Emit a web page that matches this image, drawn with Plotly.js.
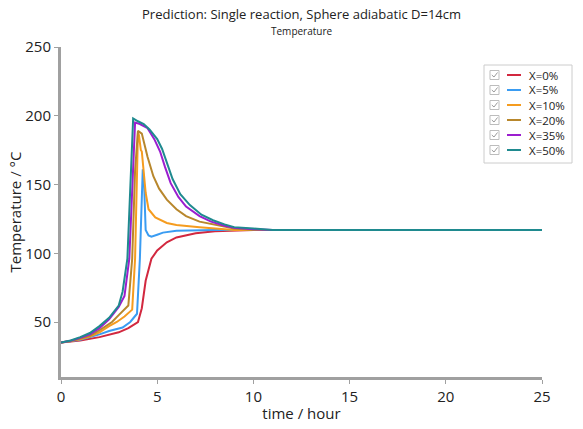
<!DOCTYPE html>
<html>
<head>
<meta charset="utf-8">
<script src="https://cdn.plot.ly/plotly-3.0.1.min.js"></script>
<style>html,body{margin:0;padding:0;background:#fff;}#chart{width:583px;height:429px;}</style>
</head>
<body>
<div id="chart"></div>
<script>
const seriesNames = ["X=0%", "X=5%", "X=10%", "X=20%", "X=35%", "X=50%"];
const seriesColors = ["#d2283f", "#3a9cf2", "#f59c1f", "#b8872c", "#9b1ecf", "#1f8a8f"];

const t0 = [0, 1, 2, 3, 3.5, 4.0, 4.2, 4.4, 4.7, 5, 5.5, 6, 7, 8, 10, 25];
const v0 = [35, 36.5, 39, 42.5, 45.5, 50, 60, 80, 96, 102, 108, 111.5, 114.5, 116, 117, 117];

const t5 = [0, 1, 2, 2.5, 3.2, 3.6, 3.95, 4.05, 4.1, 4.2, 4.25, 4.32, 4.4, 4.55, 4.7, 5.0, 5.3, 6, 7, 8, 25];
const v5 = [35, 37, 41, 43.5, 46, 50, 56, 80, 96, 140, 161, 150, 117, 113, 112, 113.5, 115, 116.3, 116.8, 117, 117];

const t10 = [0, 0.5, 1, 1.5, 2, 2.5, 2.9, 3.3, 3.7, 3.85, 3.95, 4.0, 4.05, 4.15, 4.2, 4.4, 4.55, 4.9, 5.5, 6, 7.2, 8, 9, 25];
const v10 = [35, 36, 37.5, 39.5, 42.5, 47, 50, 54, 59, 96, 170, 188, 186, 175, 174, 144, 132, 126, 122, 120.5, 119, 118, 117, 117];

const t20 = [0, 0.5, 1, 1.5, 2, 2.65, 3, 3.5, 3.7, 3.85, 4.0, 4.2, 4.5, 4.8, 5.1, 5.5, 6.0, 6.5, 7.2, 7.9, 8.5, 9, 10, 25];
const v20 = [35, 36, 38, 40, 44, 50, 55, 62, 96, 160, 189, 187, 170, 156, 147, 139, 132, 127, 123, 121, 119, 118, 117, 117];

const t35 = [0, 0.5, 1, 1.5, 2, 2.5, 3, 3.3, 3.55, 3.7, 3.85, 4.1, 4.5, 4.85, 5.15, 5.4, 5.7, 6.1, 6.5, 7.2, 7.8, 8.5, 9, 10, 11, 25];
const v35 = [35, 36.3, 38.5, 41, 45.5, 52, 61, 69, 96, 150, 195, 194, 191, 183, 174, 163, 151, 141, 134, 127, 123, 120, 118.5, 117.5, 117, 117];

const t50 = [0, 0.5, 1, 1.5, 2, 2.5, 3, 3.2, 3.45, 3.6, 3.75, 4.0, 4.3, 4.6, 5.0, 5.25, 5.5, 5.8, 6.2, 6.7, 7.3, 7.9, 8.5, 9, 10, 11, 25];
const v50 = [35, 36.5, 39, 42, 47, 53, 62, 72, 96, 150, 198, 196, 194, 190, 183, 176, 166, 154, 143, 135, 128, 124, 121, 119, 118, 117, 117];

const times = [t0, t5, t10, t20, t35, t50];
const values = [v0, v5, v10, v20, v35, v50];

const traces = seriesNames.map((n, i) => ({
  x: times[i], y: values[i], name: n, type: 'scatter', mode: 'lines',
  line: {color: seriesColors[i], width: 2}
}));

const font = "'Open Sans', 'Noto Sans', sans-serif";
const M = {l: 61, r: 41, t: 47, b: 52};
const W = 583, H = 429;
const pw = W - M.l - M.r, ph = H - M.t - M.b;
const px = X => (X - M.l) / pw;
const py = Y => (H - M.b - Y) / ph;

// legend (checkbox list) drawn as layout decoration
const shapes = [];
const annotations = [
  {text: 'Prediction: Single reaction, Sphere adiabatic D=14cm', xref: 'paper', yref: 'paper', x: 0.5, y: 1, yshift: 33, xanchor: 'center', yanchor: 'middle', showarrow: false, font: {size: 13, family: font, color: '#222'}},
  {text: 'Temperature', xref: 'paper', yref: 'paper', x: 0.5, y: 1, yshift: 16, xanchor: 'center', yanchor: 'middle', showarrow: false, font: {size: 10, family: font, color: '#222'}}
];
shapes.push({type: 'rect', xref: 'paper', yref: 'paper', x0: px(484), x1: px(572), y0: py(65), y1: py(163),
             line: {color: '#cccccc', width: 1}, fillcolor: '#ffffff', layer: 'above'});
seriesNames.forEach((n, i) => {
  const yc = 75 + i * 15;
  shapes.push({type: 'rect', xref: 'paper', yref: 'paper', x0: px(490), x1: px(499), y0: py(yc - 4.5), y1: py(yc + 4.5),
               line: {color: '#bdbdbd', width: 1}, fillcolor: '#ffffff', layer: 'above'});
  shapes.push({type: 'path', xref: 'paper', yref: 'paper', layer: 'above',
               path: `M ${px(491.8)} ${py(yc)} L ${px(494)} ${py(yc + 2)} L ${px(497.5)} ${py(yc - 2.5)}`,
               line: {color: '#9a9a9a', width: 1}});
  shapes.push({type: 'line', xref: 'paper', yref: 'paper', x0: px(507), x1: px(521), y0: py(yc), y1: py(yc),
               line: {color: seriesColors[i], width: 2}, layer: 'above'});
  annotations.push({text: n, xref: 'paper', yref: 'paper', x: px(527), y: py(yc), xanchor: 'left', yanchor: 'middle',
                    showarrow: false, font: {size: 11.5, family: font, color: '#222'}});
});

const layout = {
  width: W, height: H,
  margin: M,
  paper_bgcolor: '#fff', plot_bgcolor: '#fff',
  font: {family: font, color: '#222'},
  showlegend: false,
  xaxis: {range: [0, 25], tickvals: [0, 5, 10, 15, 20, 25], showgrid: false, zeroline: false,
          showline: true, linecolor: '#a0a0a0', linewidth: 3, ticks: 'outside', ticklen: 4, tickcolor: '#a0a0a0',
          tickfont: {size: 15, family: font, color: '#222'},
          title: {text: 'time / hour', font: {size: 15, family: font, color: '#222'}, standoff: 4}},
  yaxis: {range: [10, 250], tickvals: [50, 100, 150, 200, 250], showgrid: false, zeroline: false,
          showline: true, linecolor: '#a0a0a0', linewidth: 3, ticks: 'outside', ticklen: 4, tickcolor: '#a0a0a0',
          tickfont: {size: 15, family: font, color: '#222'},
          title: {text: 'Temperature / °C', font: {size: 15, family: font, color: '#222'}, standoff: 0}},
  shapes: shapes,
  annotations: annotations
};

Plotly.newPlot('chart', traces, layout, {displayModeBar: false, staticPlot: true});
</script>
</body>
</html>
